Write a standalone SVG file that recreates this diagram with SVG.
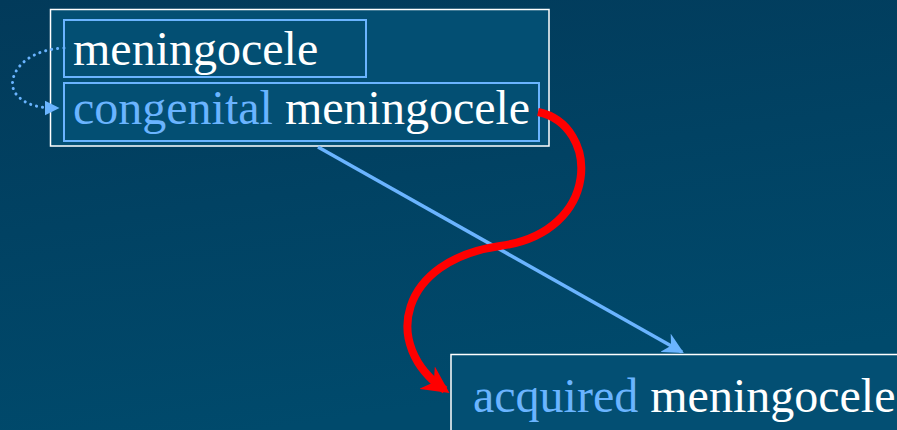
<svg xmlns="http://www.w3.org/2000/svg" width="897" height="430" viewBox="0 0 897 430">
  <defs>
    <linearGradient id="bg" x1="0" y1="0" x2="0.3" y2="1">
      <stop offset="0" stop-color="#023a5a"/>
      <stop offset="1" stop-color="#004a6c"/>
    </linearGradient>
    <marker id="blueHead" viewBox="0 0 10 10" refX="9" refY="5" markerWidth="6" markerHeight="6" markerUnits="strokeWidth" orient="auto">
      <path d="M0 0 L10 5 L0 10 L3 5 Z" fill="#6ab4ff"/>
    </marker>
    <marker id="dotHead" viewBox="0 0 10 10" refX="9" refY="5" markerWidth="5" markerHeight="7" markerUnits="strokeWidth" orient="auto">
      <path d="M0 0 L10 5 L0 10 Z" fill="#6ab4ff"/>
    </marker>
    <marker id="redHead" viewBox="0 0 10 10" refX="8" refY="5" markerWidth="3.4" markerHeight="3.4" markerUnits="strokeWidth" orient="auto">
      <path d="M0 0 L10 5 L0 10 L3 5 Z" fill="#ff0000"/>
    </marker>
  </defs>
  <style>
    .frame { fill: #034f73; stroke: #ffffff; stroke-width: 1.5; }
    .inner { fill: #034f73; stroke: #6ab4ff; stroke-width: 2; }
    text { font-family: 'Liberation Serif', 'DejaVu Serif', serif; font-size: 48px; fill: #ffffff; }
    .hl { fill: #6ab4ff; }
  </style>
  <rect width="897" height="430" fill="url(#bg)"/>

  <g id="group-top">
    <rect class="frame" x="50.5" y="9.5" width="498.5" height="136.5"/>
  </g>
  <g id="node-meningocele">
    <rect class="inner" x="64" y="20" width="302" height="57"/>
    <text x="73" y="65" font-family="Liberation Serif, serif">meningocele</text>
  </g>
  <g id="node-congenital">
    <rect class="inner" x="64" y="83" width="475" height="58"/>
    <text x="73" y="124" font-family="Liberation Serif, serif"><tspan class="hl">congenital</tspan> meningocele</text>
  </g>
  <g id="node-acquired">
    <rect class="frame" x="451" y="354.5" width="460" height="90"/>
    <text x="473" y="412" font-family="Liberation Serif, serif"><tspan class="hl">acquired</tspan> meningocele</text>
  </g>

  <g id="connectors" fill="none">
    <path d="M318 147 L682 352" stroke="#6ab4ff" stroke-width="3.5" marker-end="url(#blueHead)"/>
    <path d="M64 48 C20 50 5 80 16 94 C26 106 40 108 58 108" stroke="#6ab4ff" stroke-width="3" stroke-dasharray="0.1 6" stroke-linecap="round" marker-end="url(#dotHead)"/>
    <path d="M538 112 C600 125 602 232 500 246 C400 260 380 345 445 390" stroke="#ff0000" stroke-width="8" marker-end="url(#redHead)"/>
  </g>
</svg>
